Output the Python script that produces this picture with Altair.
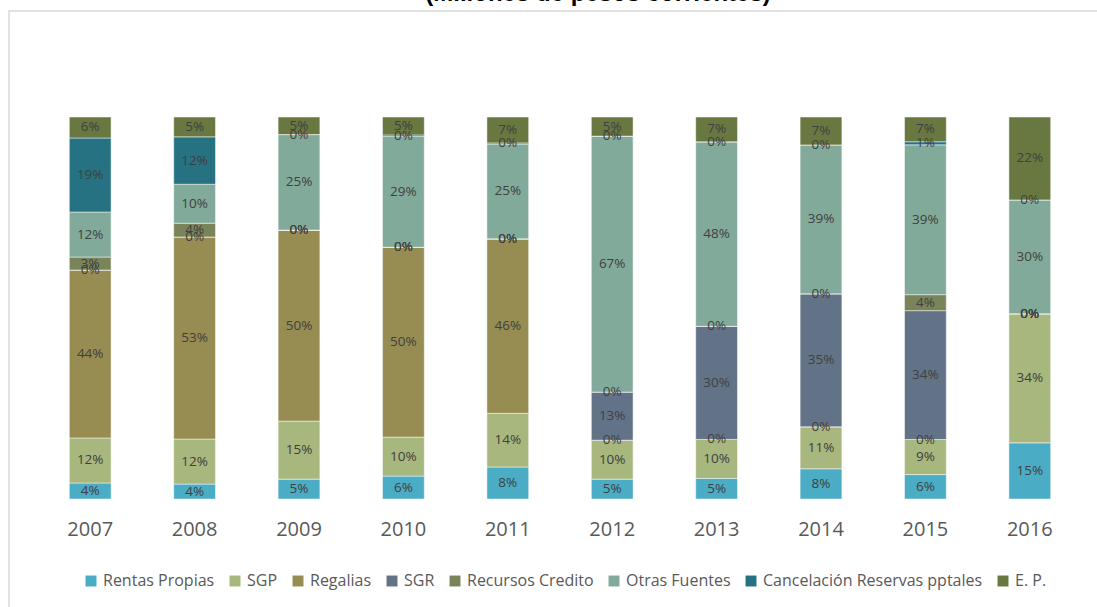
import altair as alt
import pandas as pd

years = ["2007", "2008", "2009", "2010", "2011", "2012", "2013", "2014", "2015", "2016"]
series = ["Rentas Propias", "SGP", "Regalias", "SGR", "Recursos Credito",
          "Otras Fuentes", "Cancelación Reservas pptales", "E. P."]
colors = ["#4BACC6", "#A7B77D", "#978C52", "#637387", "#7A845A",
          "#82AA9A", "#267282", "#687840"]
title_text = "(Millones de pesos corrientes)"

rentas   = [4.2, 3.9, 5.2, 6.0, 8.4, 5.2, 5.4, 7.9, 6.4, 14.7]
sgp      = [11.8, 11.8, 15.2, 10.2, 14.1, 10.2, 10.2, 11.0, 9.2, 33.8]
regalias = [44.0, 52.9, 50.0, 49.7, 45.8, 0.0, 0.0, 0.0, 0.0, 0.0]
sgr      = [0.0, 0.0, 0.0, 0.0, 0.0, 12.6, 29.6, 34.8, 33.8, 0.0]
credito  = [3.4, 3.6, 0.0, 0.0, 0.0, 0.0, 0.0, 0.0, 4.2, 0.0]
otras    = [11.8, 10.2, 25.0, 29.0, 24.9, 67.0, 48.3, 39.0, 39.3, 29.8]
cancel   = [19.4, 12.4, 0.0, 0.4, 0.3, 0.0, 0.0, 0.0, 0.8, 0.0]
ep       = [5.5, 5.2, 4.6, 4.7, 6.8, 5.0, 6.5, 7.3, 6.5, 21.7]

cols = [rentas, sgp, regalias, sgr, credito, otras, cancel, ep]
rows = []
for si, (name, vals) in enumerate(zip(series, cols)):
    for yi, yr in enumerate(years):
        rows.append({"year": yr, "serie": name, "order": si, "value": vals[yi]})
df = pd.DataFrame(rows)

base = alt.Chart(df).transform_stack(
    stack="value", groupby=["year"], as_=["y0", "y1"], offset="normalize",
    sort=[alt.SortField("order", order="ascending")]
).transform_calculate(
    mid="(datum.y0 + datum.y1) / 2",
    pct="format(datum.value, '.0f') + '%'"
)

xenc = alt.X("year:N", sort=years, title=None,
             scale=alt.Scale(paddingInner=0.6, paddingOuter=0.3),
             axis=alt.Axis(labelAngle=0, ticks=False, domain=False, labelFont="Open Sans",
                           labelFontSize=20, labelColor="#595959", labelPadding=20))

bars = base.mark_bar(stroke="#ffffff", strokeWidth=0.8, strokeOpacity=0.6).encode(
    x=xenc,
    y=alt.Y("y0:Q", scale=alt.Scale(domain=[0, 1]), axis=None),
    y2="y1:Q",
    color=alt.Color("serie:N", sort=series,
                    scale=alt.Scale(domain=series, range=colors),
                    legend=alt.Legend(title=None, orient="none", direction="horizontal",
                                      columns=8, legendX=45, legendY=456,
                                      symbolType="square", symbolSize=120,
                                      symbolStrokeWidth=0, labelLimit=0,
                                      labelFont="Open Sans", labelFontSize=16,
                                      labelColor="#595959", columnPadding=12,
                                      labelOffset=4)),
)

labels = base.mark_text(font="Open Sans", fontSize=13.5, color="#404040").encode(
    x=alt.X("year:N", sort=years),
    y=alt.Y("mid:Q", scale=alt.Scale(domain=[0, 1])),
    text="pct:N",
)

frame = alt.Chart(alt.Data(values=[{}])).mark_rect(
    fill=None, stroke="#d9d9d9", strokeWidth=1.5
).encode(x=alt.value(-29), x2=alt.value(1070), y=alt.value(-106), y2=alt.value(500))

title = alt.Chart(alt.Data(values=[{"t": title_text}])).mark_text(
    font="Liberation Sans", fontSize=24, fontWeight="bold", color="#000000",
    align="center", baseline="bottom"
).encode(x=alt.value(560), y=alt.value(-111), text="t:N")

chart = alt.layer(frame, bars, labels, title).properties(
    width=1044, height=382,
    autosize=alt.AutoSizeParams(type="none"),
    padding={"left": 38, "top": 117, "right": 15, "bottom": 108},
).configure_view(stroke=None)

chart.save("out.html", embed_options={"renderer": "svg", "actions": False})
